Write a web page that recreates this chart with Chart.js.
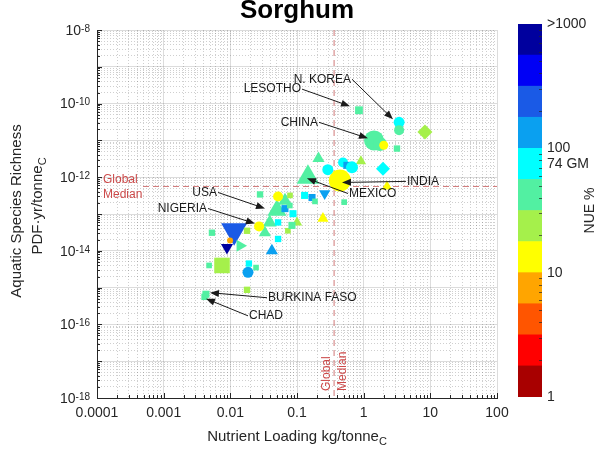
<!DOCTYPE html>
<html>
<head>
<meta charset="utf-8">
<script src="https://cdn.jsdelivr.net/npm/chart.js@4"></script>
<style>
  body { margin: 0; background: #fff; }
  #wrap { position: relative; width: 613px; height: 451px; overflow: hidden; }
  #plot { position: absolute; left: 0; top: 0; }
  #cbar { position: absolute; left: 505px; top: 0; }
</style>
</head>
<body>
<div id="wrap">
  <canvas id="plot" width="613" height="451"></canvas>
  <canvas id="cbar" width="108" height="451"></canvas>
</div>
<script>
const FONT = "'Liberation Sans', Arial, sans-serif";
const INK = '#262626';

// one entry per country: nutrient loading (kg/tonne C), species loss (PDF.yr/tonne C), NUE (%)
const nutrientLoading = [1.43, 1.75, 0.146, 0.05, 0.0114, 0.0075, 0.44,
  0.85, 3.4, 3.4, 8.3, 2.0, 3.16, 0.21, 0.91, 0.29, 0.49, 0.56, 0.668, 1.95, 2.24,
  0.13, 0.168, 0.26, 0.186, 0.51, 0.245,
  0.0279, 0.066, 0.052, 0.0785, 0.066, 0.087, 0.039, 0.052, 0.073, 0.052, 0.033, 0.078, 0.1, 0.084,
  0.027, 0.0178, 0.0099, 0.0089, 0.014, 0.0053, 0.042, 0.0048, 0.019, 0.0243, 0.0184, 0.0178, 0.0043, 0.0041];
const speciesLoss = [1.0e-11, 8e-12, 1.0e-12, 1.26e-13, 3.5e-14, 4e-15, 8.1e-13,
  6.6e-11, 3.1e-11, 1.9e-11, 1.7e-11, 7.4e-12, 6e-12, 3.2e-12, 2.7e-12, 1.6e-12, 2.5e-12, 2.1e-12, 1.85e-12, 1.7e-12, 5.6e-13,
  3.2e-13, 2.8e-13, 3.6e-13, 2.2e-13, 2.1e-13, 7.6e-14,
  3.4e-13, 2.3e-13, 3e-13, 3.2e-13, 1.4e-13, 1.02e-13, 5.9e-14, 5.9e-14, 3.5e-14, 2.1e-14, 3.1e-14, 1.7e-13, 5.9e-14, 4.9e-14,
  4.6e-14, 3.5e-14, 1.9e-14, 1.23e-14, 1.37e-14, 3.1e-14, 1e-14, 4e-15, 4.5e-15, 3.5e-15, 2.6e-15, 8.7e-16, 6.6e-16, 5.6e-16];
const nue = [40, 40, 40, 40, 250, 25, 13,
  40, 75, 40, 25, 13, 40, 40, 25, 75, 75, 140, 75, 75, 13,
  75, 140, 140, 40, 40, 13,
  40, 40, 13, 25, 140, 75, 40, 75, 25, 75, 40, 40, 25, 40,
  13, 25, 7, 600, 40, 40, 140, 40, 75, 40, 140, 25, 40, 40];

// marker look per country
const markerShape = ['circle', 'circle', 'triangle', 'triangle', 'triangleDown', 'square', 'circle',
  'square', 'circle', 'circle', 'diamond', 'circle', 'square', 'triangle', 'triangle', 'circle', 'circle', 'square', 'circle', 'diamond', 'triangle',
  'square', 'square', 'triangleDown', 'square', 'square', 'triangle',
  'square', 'triangle', 'circle', 'square', 'square', 'square', 'triangle', 'square', 'square', 'square', 'triangle', 'square', 'triangle', 'square',
  'circle', 'square', 'circle', 'triangleDown', 'triangleRight', 'square', 'triangle', 'square', 'square', 'square', 'circle', 'square', 'square', 'square'];
const markerRadius = [10, 7, 13, 11, 15, 11, 11,
  5.5, 5.5, 5, 7.5, 4.5, 4.5, 7, 6, 5.5, 5, 5, 6, 7, 6,
  5, 5, 6.5, 4, 4, 6.5,
  4.5, 8, 5, 4, 5, 5, 8, 4.5, 4, 4.5, 7, 4, 6, 5,
  5, 4.5, 3, 7, 7, 4.5, 7, 4, 4.5, 4, 5.5, 4.5, 5, 4.5];

const globalMedian = { x: 0.36, y: 5.6e-13 };

const xTickValues = [1e-4, 1e-3, 1e-2, 0.1, 1, 10, 100];
const xTickLabels = ['0.0001', '0.001', '0.01', '0.1', '1', '10', '100'];
const yTickExponents = [-8, -10, -12, -14, -16, -18];

// country callouts: arrow from label to point
const callouts = [
  { name: 'LESOTHO', from: [0.119, 2.47e-10], to: [0.624, 8.5e-11], align: 'right' },
  { name: 'N. KOREA', from: [0.668, 4.6e-10], to: [2.75, 3.76e-11], align: 'right' },
  { name: 'CHINA', from: [0.214, 3.1e-11], to: [1.16, 1.14e-11], align: 'right' },
  { name: 'INDIA', from: [4.31, 7.7e-13], to: [0.473, 7.2e-13], align: 'left' },
  { name: 'MEXICO', from: [0.582, 3.6e-13], to: [0.141, 9.3e-13], align: 'left' },
  { name: 'USA', from: [0.00653, 3.85e-13], to: [0.0331, 1.41e-13], align: 'right' },
  { name: 'NIGERIA', from: [0.00462, 1.41e-13], to: [0.0234, 5.5e-14], align: 'right' },
  { name: 'BURKINA FASO', from: [0.0355, 5.3e-16], to: [0.00495, 7.3e-16], align: 'left' },
  { name: 'CHAD', from: [0.0184, 1.71e-16], to: [0.00431, 5.0e-16], align: 'left' }
];

// NUE colour bar: 12 bands, four per decade
const nueBandColors = ['#a80000', '#ff0000', '#ff5500', '#ffa500', '#ffff00', '#a5f04b',
  '#52f0a2', '#00ffff', '#0aa0f0', '#1a5ae6', '#0000f5', '#00009e'];
const nueTickValues = [1, 10, 74, 100, 1000];
const nueTickLabels = ['1', '10', '74 GM', '100', '>1000'];

function nueBand(v) {
  return Math.min(11, Math.max(0, Math.floor(4 * Math.log10(v) + 1e-9)));
}

function logTicks(minExp, maxExp) {
  const t = [];
  for (let e = minExp; e < maxExp; e++) {
    for (let m = 1; m < 10; m++) t.push({ value: m * Math.pow(10, e), major: m === 1 });
  }
  t.push({ value: Math.pow(10, maxExp), major: true });
  return t;
}

const styleOf = {
  circle: ['circle', 0], square: ['rect', 0], diamond: ['rectRot', 0],
  triangle: ['triangle', 0], triangleDown: ['triangle', 180], triangleRight: ['triangle', 90]
};

const gridColor = c => (c.tick && c.tick.major) ? 'rgba(38,38,38,0.16)' : 'rgba(38,38,38,0.22)';
const gridDash = c => (c.tick && !c.tick.major) ? [1, 2] : [];

function drawSub(ctx, main, sub, x, y, size) {
  // text with a subscript, centred on x
  ctx.font = size + 'px ' + FONT;
  const w1 = ctx.measureText(main).width;
  ctx.font = (size - 4) + 'px ' + FONT;
  const w2 = ctx.measureText(sub).width;
  const x0 = x - (w1 + w2) / 2;
  ctx.textAlign = 'left';
  ctx.font = size + 'px ' + FONT;
  ctx.fillText(main, x0, y);
  ctx.font = (size - 4) + 'px ' + FONT;
  ctx.fillText(sub, x0 + w1, y + 5);
}

function arrow(ctx, x1, y1, x2, y2) {
  const ang = Math.atan2(y2 - y1, x2 - x1);
  const len = 9, half = 3.5;
  ctx.beginPath();
  ctx.moveTo(x1, y1);
  ctx.lineTo(x2 - Math.cos(ang) * len * 0.8, y2 - Math.sin(ang) * len * 0.8);
  ctx.stroke();
  ctx.beginPath();
  ctx.moveTo(x2, y2);
  ctx.lineTo(x2 - Math.cos(ang) * len - Math.sin(ang) * half, y2 - Math.sin(ang) * len + Math.cos(ang) * half);
  ctx.lineTo(x2 - Math.cos(ang) * len + Math.sin(ang) * half, y2 - Math.sin(ang) * len - Math.cos(ang) * half);
  ctx.closePath();
  ctx.fill();
}

const decorations = {
  id: 'decorations',
  beforeDatasetsDraw(chart) {
    const { ctx, chartArea: a, scales: { x, y } } = chart;
    const mx = x.getPixelForValue(globalMedian.x);
    const my = y.getPixelForValue(globalMedian.y);
    ctx.save();
    ctx.strokeStyle = '#d07878';
    ctx.lineWidth = 1;
    ctx.setLineDash([6, 4]);
    ctx.beginPath();
    ctx.moveTo(mx, a.top); ctx.lineTo(mx, a.bottom);
    ctx.moveTo(a.left + 46, my); ctx.lineTo(a.right, my);
    ctx.stroke();
    ctx.restore();
  },
  afterDraw(chart) {
    const { ctx, chartArea: a, scales: { x, y } } = chart;
    ctx.save();
    // inward tick marks
    ctx.strokeStyle = INK;
    ctx.lineWidth = 1;
    ctx.beginPath();
    x.ticks.forEach(t => {
      const px = Math.round(x.getPixelForValue(t.value)) + 0.5;
      ctx.moveTo(px, a.bottom); ctx.lineTo(px, a.bottom - (t.major ? 5 : 3));
    });
    y.ticks.forEach(t => {
      const py = Math.round(y.getPixelForValue(t.value)) + 0.5;
      ctx.moveTo(a.left, py); ctx.lineTo(a.left + (t.major ? 5 : 3), py);
    });
    ctx.stroke();

    // y tick labels as powers of ten
    ctx.fillStyle = INK;
    yTickExponents.forEach(e => {
      const py = y.getPixelForValue(Math.pow(10, e));
      const sup = '-' + Math.abs(e);
      ctx.font = '10px ' + FONT;
      const ws = ctx.measureText(sup).width;
      ctx.textAlign = 'left';
      ctx.textBaseline = 'top';
      ctx.fillText(sup, a.left - 7 - ws, py - 6);
      ctx.font = '14px ' + FONT;
      ctx.textAlign = 'right';
      ctx.textBaseline = 'middle';
      ctx.fillText('10', a.left - 7 - ws, py + 1);
    });

    // global median labels
    const mx = x.getPixelForValue(globalMedian.x);
    const my = y.getPixelForValue(globalMedian.y);
    ctx.fillStyle = '#cc4a4a';
    ctx.font = '12px ' + FONT;
    ctx.textAlign = 'left';
    ctx.textBaseline = 'middle';
    ctx.fillText('Global', a.left + 6, my - 7);
    ctx.fillText('Median', a.left + 6, my + 8);
    [['Global', mx - 7], ['Median', mx + 9]].forEach(([s, px]) => {
      ctx.save();
      ctx.translate(px, a.bottom - 7);
      ctx.rotate(-Math.PI / 2);
      ctx.fillText(s, 0, 0);
      ctx.restore();
    });

    // callouts
    ctx.fillStyle = '#1a1a1a';
    ctx.strokeStyle = '#1a1a1a';
    ctx.font = '12px ' + FONT;
    callouts.forEach(c => {
      const fx = x.getPixelForValue(c.from[0]), fy = y.getPixelForValue(c.from[1]);
      const tx = x.getPixelForValue(c.to[0]), ty = y.getPixelForValue(c.to[1]);
      ctx.textAlign = c.align;
      ctx.textBaseline = 'middle';
      ctx.fillText(c.name, c.align === 'right' ? fx - 1 : fx + 1, fy);
      arrow(ctx, fx, fy, tx, ty);
    });

    // titles
    ctx.fillStyle = '#000';
    ctx.font = 'bold 26px ' + FONT;
    ctx.textAlign = 'center';
    ctx.textBaseline = 'alphabetic';
    ctx.fillText('Sorghum', (a.left + a.right) / 2, 18);

    ctx.fillStyle = INK;
    ctx.textBaseline = 'middle';
    drawSub(ctx, 'Nutrient Loading kg/tonne', 'C', (a.left + a.right) / 2, 437, 15);

    ctx.save();
    ctx.translate(17, (a.top + a.bottom) / 2 - 3);
    ctx.rotate(-Math.PI / 2);
    ctx.font = '15px ' + FONT;
    ctx.textAlign = 'center';
    ctx.fillText('Aquatic Species Richness', 0, 0);
    ctx.restore();
    ctx.save();
    ctx.translate(38, (a.top + a.bottom) / 2 - 8);
    ctx.rotate(-Math.PI / 2);
    drawSub(ctx, 'PDF\u00b7yr/tonne', 'C', 0, 0, 15);
    ctx.restore();
    ctx.restore();
  }
};

new Chart(document.getElementById('plot'), {
  type: 'scatter',
  data: {
    datasets: [{
      data: nutrientLoading.map((v, i) => ({ x: v, y: speciesLoss[i] })),
      pointStyle: markerShape.map(s => styleOf[s][0]),
      pointRotation: markerShape.map(s => styleOf[s][1]),
      pointRadius: markerRadius,
      pointHoverRadius: markerRadius,
      pointBackgroundColor: nue.map(v => nueBandColors[nueBand(v)]),
      pointBorderWidth: 0,
      pointHoverBorderWidth: 0
    }]
  },
  plugins: [decorations],
  options: {
    responsive: false,
    animation: false,
    events: [],
    layout: { padding: { left: 0, right: 116, top: 30, bottom: 0 } },
    plugins: { legend: { display: false }, tooltip: { enabled: false }, title: { display: false } },
    scales: {
      x: {
        type: 'logarithmic',
        min: 1e-4,
        max: 100,
        afterBuildTicks: s => { s.ticks = logTicks(-4, 2); },
        afterFit: s => { s.height = 53; s.paddingLeft = 0; s.paddingRight = 0; },
        grid: { color: gridColor, drawTicks: false },
        border: { display: true, color: INK, dash: gridDash },
        ticks: {
          autoSkip: false,
          maxRotation: 0,
          padding: 7,
          color: INK,
          font: { family: FONT, size: 14 },
          callback: (v, i, ticks) => {
            const k = xTickValues.findIndex(t => Math.abs(Math.log10(t) - Math.log10(ticks[i].value)) < 1e-6);
            return k >= 0 ? xTickLabels[k] : '';
          }
        }
      },
      y: {
        type: 'logarithmic',
        min: 1e-18,
        max: 1e-8,
        afterBuildTicks: s => { s.ticks = logTicks(-18, -8); },
        afterFit: s => { s.width = 97; s.paddingTop = 0; s.paddingBottom = 0; },
        grid: { color: gridColor, drawTicks: false },
        border: { display: true, color: INK, dash: gridDash },
        ticks: { display: false }
      }
    }
  }
});

// colour bar
const cbarTicks = {
  id: 'cbarTicks',
  afterDraw(chart) {
    const { ctx, chartArea: a, scales: { y } } = chart;
    ctx.save();
    ctx.strokeStyle = 'rgba(38,38,38,0.7)';
    ctx.lineWidth = 1;
    ctx.beginPath();
    [1, 10, 100].forEach(d => {
      for (let m = 2; m < 10; m++) {
        const py = Math.round(y.getPixelForValue(4 * Math.log10(m * d))) + 0.5;
        ctx.moveTo(a.right, py); ctx.lineTo(a.right - 3, py);
      }
    });
    ctx.stroke();
    ctx.fillStyle = INK;
    ctx.font = '14px ' + FONT;
    ctx.textAlign = 'center';
    ctx.textBaseline = 'middle';
    ctx.translate(85, (a.top + a.bottom) / 2);
    ctx.rotate(-Math.PI / 2);
    ctx.fillText('NUE %', 0, 0);
    ctx.restore();
  }
};

new Chart(document.getElementById('cbar'), {
  type: 'bar',
  data: {
    labels: ['NUE'],
    datasets: nueBandColors.map(c => ({
      data: [1], backgroundColor: c, borderWidth: 0, barPercentage: 1, categoryPercentage: 1
    }))
  },
  plugins: [cbarTicks],
  options: {
    responsive: false,
    animation: false,
    events: [],
    layout: { padding: { left: 13, right: 0, top: 24, bottom: 54 } },
    plugins: { legend: { display: false }, tooltip: { enabled: false } },
    scales: {
      x: { stacked: true, display: false },
      y: {
        stacked: true,
        position: 'right',
        min: 0,
        max: 12,
        afterBuildTicks: s => { s.ticks = nueTickValues.map(v => ({ value: 4 * Math.log10(v) })); },
        afterFit: s => { s.width = 71; s.paddingTop = 0; s.paddingBottom = 0; },
        grid: { display: false, drawTicks: false },
        border: { display: false },
        ticks: {
          autoSkip: false,
          padding: 5,
          color: INK,
          font: { family: FONT, size: 14 },
          callback: (v, i) => nueTickLabels[i]
        }
      }
    }
  }
});
</script>
</body>
</html>
